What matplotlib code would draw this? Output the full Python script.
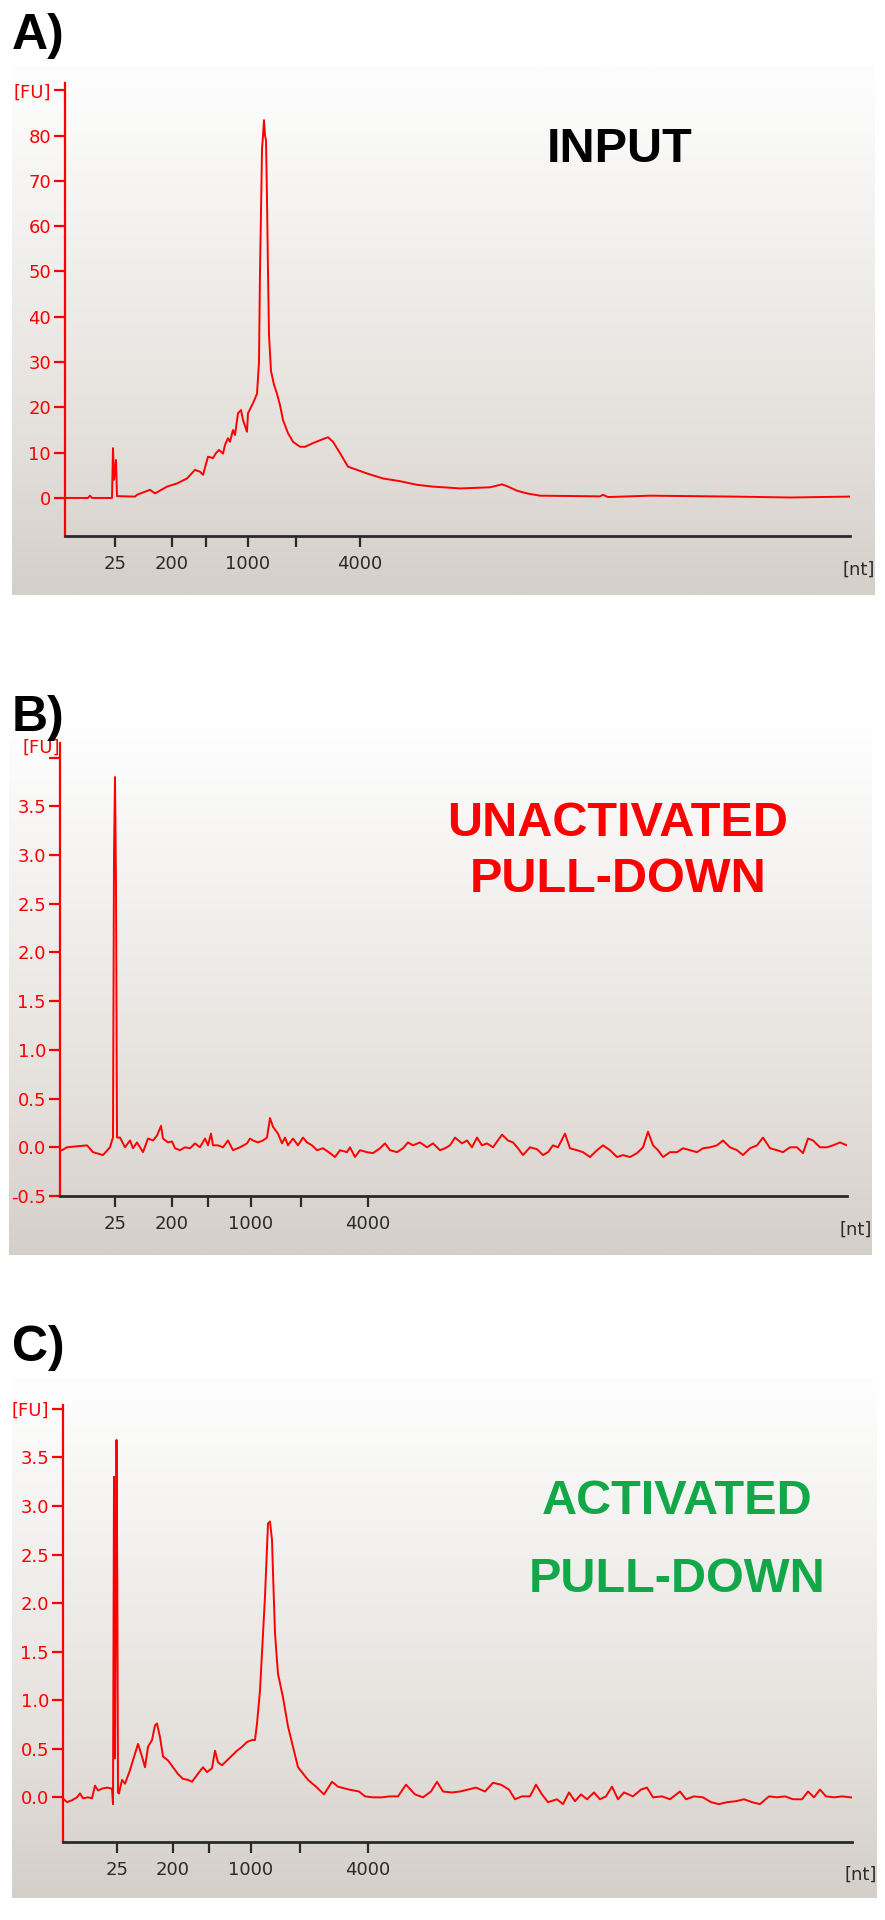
import numpy as np
import matplotlib.pyplot as plt
from matplotlib.colors import LinearSegmentedColormap

# x = migration position along the electropherogram, y = fluorescence [FU]
tick_labels = ['25', '200', '', '1000', '', '4000']

# A) INPUT
a_ticks = [50, 107, 141, 183, 231, 295]
a_x = [0, 23, 25, 27, 47, 48, 49, 51, 52, 70, 72, 85, 90, 102, 112, 122, 130, 135, 138,
       143, 148, 151, 154, 158, 160, 163, 165, 168, 170, 173, 176, 178, 182, 183, 188,
       192, 194, 195, 196, 197, 198, 199, 200, 201, 202, 203, 204, 206, 209, 212, 215,
       218, 223, 228, 235, 240, 248, 257, 263, 268, 275, 283, 292, 302, 318, 335, 352,
       368, 382, 395, 425, 437, 442, 452, 462, 475, 535, 538, 543, 585, 668, 725, 785]
a_y = [0, 0, 0.5, 0, 0, 11, 4, 8.4, 0.4, 0.3, 0.7, 1.8, 1.0, 2.5, 3.2, 4.3, 6.2, 5.8, 5.1,
       9.1, 8.8, 9.9, 10.6, 9.8, 11.7, 13.2, 12.4, 15, 13.9, 18.7, 19.4, 17.2, 14.6, 18.7, 20.9,
       23, 30, 50, 63, 77, 80, 83.4, 80, 79, 66, 50, 36, 28, 25, 23, 20.5,
       17.2, 14.3, 12.4, 11.3, 11.3, 12.1, 12.9, 13.4, 12.4, 9.9, 6.9, 6.2, 5.4, 4.3, 3.7, 2.9,
       2.5, 2.3, 2.1, 2.35, 3.0, 2.6, 1.6, 1.0, 0.5, 0.35, 0.7, 0.2, 0.5, 0.3, 0.1, 0.3]

# B) UNACTIVATED PULL-DOWN
b_ticks = [55, 112, 148, 191, 241, 308]
b_x = [2, 7, 17, 27, 33, 43, 50, 52, 53, 54, 55, 56, 57, 60, 65, 70, 73, 77, 83, 88, 93, 97,
       101, 103, 108, 112, 115, 120, 125, 130, 135, 140, 145, 148, 151, 153, 158, 163, 168,
       173, 180, 187, 190, 193, 198, 203, 207, 210, 213, 218, 222, 225, 228, 233, 238, 243,
       247, 252, 257, 263, 270, 275, 280, 287, 290, 295, 300, 307, 313, 320, 325, 330, 337,
       343, 348, 353, 360, 367, 373, 380, 385, 390, 395, 402, 407, 412, 417, 422, 427, 433,
       442, 448, 453, 458, 463, 470, 477, 483, 488, 493, 498, 505, 510, 517, 523, 530, 537,
       543, 550, 557, 563, 570, 577, 583, 588, 593, 598, 603, 610, 617, 623, 630, 637, 643,
       650, 657, 663, 670, 677, 683, 690, 697, 703, 710, 717, 723, 730, 737, 743, 748, 753,
       760, 767, 773, 780, 787]
b_y = [-0.03, 0.0, 0.01, 0.02, -0.05, -0.08, 0.0, 0.07, 0.1, 3.0, 3.8, 2.7, 0.1, 0.1, 0.0,
       0.07, -0.01, 0.05, -0.05, 0.09, 0.07, 0.12, 0.22, 0.09, 0.05, 0.06, -0.01, -0.03, 0.0,
       -0.01, 0.04, 0.0, 0.09, 0.02, 0.14, 0.02, 0.02, 0.0, 0.07, -0.03, 0.0, 0.04, 0.09, 0.07,
       0.05, 0.07, 0.1, 0.3, 0.21, 0.14, 0.04, 0.1, 0.02, 0.09, 0.02, 0.1, 0.05, 0.02, -0.03,
       -0.01, -0.06, -0.1, -0.03, -0.05, 0.0, -0.1, -0.03, -0.05, -0.06, -0.01, 0.04, -0.03,
       -0.05, -0.01, 0.05, 0.02, 0.05, 0.0, 0.04, -0.03, -0.01, 0.02, 0.1, 0.04, 0.07, 0.0,
       0.1, 0.02, 0.04, 0.0, 0.13, 0.07, 0.05, -0.01, -0.08, 0.0, -0.02, -0.08, -0.05, 0.02,
       0.0, 0.14, -0.01, -0.03, -0.05, -0.1, -0.03, 0.02, -0.03, -0.1, -0.08, -0.1, -0.06, 0.0,
       0.16, 0.02, -0.03, -0.1, -0.05, -0.05, -0.01, -0.03, -0.05, -0.01, 0.0, 0.02, 0.07, 0.0,
       -0.03, -0.08, -0.01, 0.02, 0.1, -0.01, -0.03, -0.05, 0.0, 0.0, -0.06, 0.09, 0.07, 0.0,
       0.0, 0.02, 0.05, 0.02]

# C) ACTIVATED PULL-DOWN
c_ticks = [54, 110, 146, 188, 237, 305]
c_x = [0, 4, 9, 14, 17, 20, 25, 29, 32, 35, 39, 44, 49, 50, 51, 52, 53.5, 54.3, 55, 56, 59,
       62, 67, 72, 75, 79, 82, 85, 89, 92, 94, 97, 100, 105, 110, 115, 120, 125, 129, 134,
       140, 144, 149, 152, 155, 159, 164, 169, 174, 179, 184, 189, 192, 194, 197, 200, 202,
       204, 205, 207, 209, 210, 212, 215, 220, 225, 230, 235, 245, 253, 261, 269, 275, 286,
       296, 302, 310, 319, 327, 335, 343, 352, 360, 368, 374, 380, 389, 397, 405, 413, 422,
       430, 438, 446, 452, 459, 467, 473, 479, 485, 494, 500, 506, 512, 518, 524, 531, 537,
       543, 549, 555, 561, 570, 578, 584, 590, 599, 607, 617, 623, 631, 640, 648, 656, 664,
       673, 681, 689, 697, 706, 714, 722, 730, 739, 745, 751, 757, 763, 771, 779, 787, 794]
c_y = [-0.01, -0.05, -0.03, 0.0, 0.04, -0.01, 0.0, -0.01, 0.12, 0.07, 0.09, 0.1, 0.09,
       -0.07, 3.3, 0.4, 3.68, 2.2, 0.05, 0.04, 0.18, 0.14, 0.28, 0.45, 0.55, 0.42, 0.31, 0.52,
       0.59, 0.74, 0.76, 0.62, 0.42, 0.38, 0.31, 0.24, 0.19, 0.18, 0.16, 0.23, 0.31, 0.26, 0.3,
       0.48, 0.36, 0.33, 0.38, 0.43, 0.48, 0.52, 0.57, 0.59, 0.59, 0.76, 1.1, 1.69, 2.07, 2.58,
       2.82, 2.84, 2.65, 2.31, 1.69, 1.27, 1.03, 0.73, 0.52, 0.31, 0.18, 0.11, 0.03, 0.16,
       0.11, 0.08, 0.06, 0.01, 0.0, 0.0, 0.01, 0.01, 0.13, 0.03, 0.0, 0.06, 0.16, 0.06, 0.05,
       0.06, 0.08, 0.1, 0.06, 0.15, 0.13, 0.08, -0.02, 0.01, 0.01, 0.13, 0.03, -0.05, -0.02,
       -0.07, 0.05, -0.04, 0.03, -0.02, 0.05, -0.02, 0.01, 0.11, -0.02, 0.05, 0.01, 0.08, 0.1,
       0.0, 0.01, -0.02, 0.06, -0.02, 0.01, 0.0, -0.05, -0.07, -0.05, -0.04, -0.02, -0.05,
       -0.07, 0.01, 0.0, 0.01, -0.02, -0.02, 0.06, 0.0, 0.08, 0.01, 0.0, 0.01, 0.0, 0.0]

W, H = 885, 1920
RED = '#ff0000'
DARK = '#2a2a2a'

fig = plt.figure(figsize=(W / 100, H / 100), dpi=100)
fig.patch.set_facecolor('white')

grad = LinearSegmentedColormap.from_list(
    'bg', [(0, '#fefefe'), (0.3, '#f3f2f0'), (0.7, '#e4e0dc'), (1, '#d5cfc9')])


def px_rect(l, t, r, b):
    return [l / W, 1 - b / H, (r - l) / W, (b - t) / H]


def panel(box, axbox, x, y, ticks, xlim, ylim, yticks, ylabels):
    bg = fig.add_axes(px_rect(*box), zorder=0)
    bg.imshow(np.linspace(0, 1, 256).reshape(-1, 1), aspect='auto', cmap=grad,
              extent=[0, 1, 0, 1])
    bg.axis('off')

    ax = fig.add_axes(px_rect(*axbox), zorder=1)
    ax.patch.set_visible(False)
    ax.plot(x, y, color=RED, lw=1.4)
    ax.set_xlim(*xlim)
    ax.set_ylim(*ylim)
    for s in ['top', 'right']:
        ax.spines[s].set_visible(False)
    ax.spines['left'].set_color(RED)
    ax.spines['left'].set_linewidth(1.6)
    ax.spines['bottom'].set_color(DARK)
    ax.spines['bottom'].set_linewidth(2)
    ax.set_yticks(yticks)
    ax.set_yticklabels(ylabels)
    ax.tick_params(axis='y', colors=RED, length=8, width=1.6, pad=2, labelsize=13)
    ax.set_xticks(ticks)
    ax.set_xticklabels(tick_labels)
    ax.tick_params(axis='x', colors=DARK, length=8, width=1.6, pad=6, labelsize=13)
    for lab in ax.get_yticklabels() + ax.get_xticklabels():
        lab.set_family('DejaVu Sans')
    ax.text(0.99, -0.055, '[nt]', transform=ax.transAxes, ha='left', va='top',
            fontsize=13, color=DARK)
    return ax


bold = dict(family='Liberation Sans', weight='bold')

# A
ya = list(range(0, 100, 10))
panel((12, 65, 875, 595), (65, 83, 850, 536), a_x, a_y, a_ticks, (0, 785), (-8.4, 91.6),
      ya, [str(v) for v in ya[:-1]] + ['[FU]'])
fig.text(12 / W, 1 - 36 / H, 'A)', fontsize=36, va='center', ha='left', **bold)
fig.text(620 / W, 1 - 150 / H, 'INPUT', fontsize=35, va='center', ha='center',
         color='black', **bold)

# B
yb = [-0.5, 0.0, 0.5, 1.0, 1.5, 2.0, 2.5, 3.0, 3.5, 4.0]
axb = panel((9, 728, 872, 1255), (60, 743, 847, 1196), b_x, b_y, b_ticks, (0, 787),
            (-0.5, 4.15), yb, ['%.1f' % v for v in yb[:-1]] + [''])
axb.text(-0.02, 4.1, '[FU]', ha='right', va='center', fontsize=13, color=RED,
         clip_on=False)
fig.text(12 / W, 1 - 718 / H, 'B)', fontsize=36, va='center', ha='left', **bold)
fig.text(618 / W, 1 - 823 / H, 'UNACTIVATED', fontsize=35, va='center', ha='center',
         color=RED, **bold)
fig.text(618 / W, 1 - 879 / H, 'PULL-DOWN', fontsize=35, va='center', ha='center',
         color=RED, **bold)

# C
yc = [0.0, 0.5, 1.0, 1.5, 2.0, 2.5, 3.0, 3.5, 4.0]
panel((12, 1377, 877, 1898), (63, 1405, 852, 1842), c_x, c_y, c_ticks, (0, 789),
      (-0.46, 4.04), yc, ['%.1f' % v for v in yc[:-1]] + ['[FU]'])
fig.text(12 / W, 1 - 1348 / H, 'C)', fontsize=36, va='center', ha='left', **bold)
fig.text(677 / W, 1 - 1502 / H, 'ACTIVATED', fontsize=35, va='center', ha='center',
         color='#12a84a', **bold)
fig.text(677 / W, 1 - 1580 / H, 'PULL-DOWN', fontsize=35, va='center', ha='center',
         color='#12a84a', **bold)

fig.savefig('out.png', dpi=100)
